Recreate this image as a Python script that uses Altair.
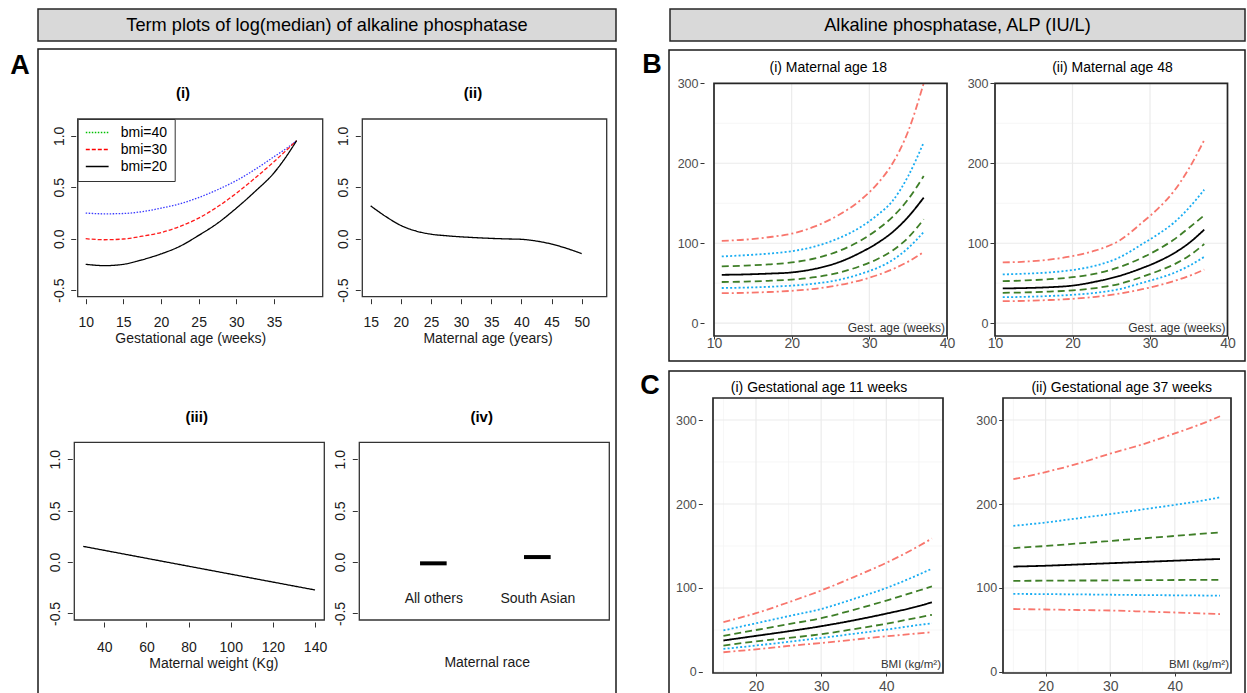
import altair as alt
import pandas as pd

W, H = 1247, 693
FONT = "Liberation Sans"

# ---------------- Panel A : term plots ----------------
a1_gest = [10, 12.5, 15, 17.5, 20, 22.5, 25, 27.5, 30, 32.5, 35, 36.5, 38.0]
a1_bmi20 = [-0.249, -0.262, -0.249, -0.205, -0.148, -0.074, 0.032, 0.150, 0.297, 0.460, 0.640, 0.785, 0.953]
a1_bmi30 = [0.0, -0.010, -0.003, 0.024, 0.060, 0.119, 0.200, 0.310, 0.442, 0.590, 0.749, 0.850, 0.953]
a1_bmi40 = [0.249, 0.242, 0.245, 0.263, 0.297, 0.339, 0.400, 0.476, 0.565, 0.674, 0.797, 0.870, 0.953]
a1_labels = ["bmi=40", "bmi=30", "bmi=20"]

a2_age = [15, 17.5, 20, 22.5, 25, 27.5, 30, 32.5, 35, 37.5, 40, 42.5, 45, 47.5, 50]
a2_eff = [0.319, 0.216, 0.129, 0.075, 0.044, 0.029, 0.018, 0.010, 0.003, -0.002, -0.006, -0.023, -0.052, -0.094, -0.145]

a3_weight = [30, 80, 140]
a3_eff = [0.152, -0.041, -0.272]

a4_levels = ["All others", "South Asian"]
a4_pos = [1, 2]
a4_eff = [-0.013, 0.048]

a_yticks = [-0.5, 0.0, 0.5, 1.0]

# ---------------- Panel B : ALP by gestational age ----------------
b_gest = [11, 14, 17, 20, 23, 26, 29, 31, 33, 35, 37]
b1 = {
    "red_hi":   [103, 104.5, 107.5, 112, 121, 135, 155, 174, 200, 240, 300],
    "blue_hi":  [83.5, 85, 87, 90, 96, 106, 121, 135, 153, 184, 226],
    "green_hi": [71, 72, 73.5, 76, 81, 90, 104, 117, 133, 155, 184],
    "median":   [60.5, 61, 62, 63.5, 68, 76, 89, 100, 114, 133, 157],
    "green_lo": [51.5, 52, 53, 54.5, 57.5, 63, 72, 80, 91, 107, 130],
    "blue_lo":  [44, 44.5, 45.5, 47, 49.5, 54, 62, 69, 79, 94, 114],
    "red_lo":   [37.5, 38, 39, 40.5, 43, 47.5, 54, 60, 67.5, 77, 89],
}
b2 = {
    "red_hi":   [76, 77, 79.5, 84, 91, 103, 126, 143, 164, 193, 229],
    "blue_hi":  [61, 62, 63.5, 66.5, 72, 82, 99, 111, 125, 144, 167],
    "green_hi": [52.5, 53.5, 55, 57.5, 62, 70, 82, 92, 104, 119, 135],
    "median":   [43.5, 44, 45, 47, 52, 59, 69, 77, 87, 100, 117],
    "green_lo": [38, 38.5, 39.5, 41, 44, 49, 58, 65, 73, 84, 99],
    "blue_lo":  [32.5, 33, 34, 35.5, 38, 42.5, 50.5, 56, 62.5, 71.5, 83],
    "red_lo":   [27.5, 28, 29, 30.5, 33, 37, 42.5, 47, 52.5, 59, 67],
}

# ---------------- Panel C : ALP by BMI ----------------
c_bmi = [15, 20, 25, 30, 35, 40, 45, 47]
c1 = {
    "red_hi":   [59.5, 70, 83, 97, 113, 130, 150, 159],
    "blue_hi":  [49.5, 58, 66.5, 75, 87, 100, 116, 123],
    "green_hi": [43, 50, 57, 64, 74, 85, 97, 102],
    "median":   [37.5, 43, 48.5, 54.5, 61.5, 69.5, 78.5, 83],
    "green_lo": [31.5, 36.5, 40.5, 45, 51, 57.5, 65, 68],
    "blue_lo":  [27.5, 31.5, 36, 40.5, 45.5, 50.5, 56, 58],
    "red_lo":   [23.5, 27, 31, 34.5, 38.5, 42.5, 46, 47.5],
}
c2 = {
    "red_hi":   [229.5, 238, 248, 260, 271, 284, 298, 304.5],
    "blue_hi":  [174, 178, 183, 188, 193.5, 199, 205, 208],
    "green_hi": [147.5, 150, 153, 156, 159, 162, 165, 166],
    "median":   [125.5, 126.5, 128, 129.5, 131, 132.5, 134, 134.5],
    "green_lo": [108.5, 108.7, 108.9, 109, 109.3, 109.5, 109.7, 109.8],
    "blue_lo":  [93, 92.7, 92.4, 92, 91.6, 91.3, 91, 90.8],
    "red_lo":   [75, 74.4, 73.8, 73.2, 72, 70.8, 69.5, 69],
}

BANDS = ["red_hi", "blue_hi", "green_hi", "median", "green_lo", "blue_lo", "red_lo"]
RED, BLUE, GREEN = "#F8766D", "#1AADF2", "#3E7E27"
BAND_COLORS = [RED, BLUE, GREEN, "#000000", GREEN, BLUE, RED]
DD, DOT, DASH, SOLID = [7, 3, 2, 3], [2, 2.2], [7, 4], [1, 0]
BAND_DASH = [DD, DOT, DASH, SOLID, DASH, DOT, DD]

# ---------------- layout (pixel geometry of each panel frame) ----------------
A_Y = [-0.564, 1.164]
G = {
    "A1": dict(xdom=[8.94, 41.47], xr=[77.7, 322.7], ydom=A_Y, yr=[296.7, 119]),
    "A2": dict(xdom=[13.61, 54.15], xr=[362.3, 606.7], ydom=A_Y, yr=[296.7, 119]),
    "A3": dict(xdom=[25.76, 144.4], xr=[74.3, 324.3], ydom=A_Y, yr=[620, 442.3]),
    "A4": dict(xdom=[0.288, 2.692], xr=[359.3, 609.3], ydom=A_Y, yr=[620, 442.3]),
    "B1": dict(xdom=[10, 40], xr=[714, 947], ydom=[-16, 300], yr=[336, 83.3]),
    "B2": dict(xdom=[10, 40], xr=[995, 1227.5], ydom=[-16, 300], yr=[336, 83.3]),
    "C1": dict(xdom=[13.4, 48.7], xr=[713, 943], ydom=[-1.2, 326.2], yr=[673, 398]),
    "C2": dict(xdom=[13.4, 48.7], xr=[1003, 1231], ydom=[-1.2, 326.2], yr=[673, 398]),
}

ONE = pd.DataFrame({"k": [0]})


def sc(dom, rng):
    return alt.Scale(domain=dom, range=rng, nice=False, zero=False)


class Panel:
    """Shared scales and axes for every layer of one panel."""

    def __init__(self, g, xaxis, yaxis):
        self.g = g
        self.xs = sc(g["xdom"], g["xr"])
        self.ys = sc(g["ydom"], g["yr"])
        self.xa = xaxis
        self.ya = yaxis

    def X(self, field):
        return alt.X(field, scale=self.xs, axis=self.xa)

    def Y(self, field):
        return alt.Y(field, scale=self.ys, axis=self.ya)

    def XD(self, v):
        return alt.XDatum(v, type="quantitative", scale=self.xs, axis=self.xa)

    def YD(self, v):
        return alt.YDatum(v, type="quantitative", scale=self.ys, axis=self.ya)

    def frame(self, stroke, sw):
        g = self.g
        return alt.Chart(ONE).mark_rect(filled=False, stroke=stroke, strokeWidth=sw).encode(
            x=self.XD(g["xdom"][0]), x2=alt.X2Datum(g["xdom"][1]),
            y=self.YD(g["ydom"][0]), y2=alt.Y2Datum(g["ydom"][1]),
        )

    def hgrid(self, vals, color, sw):
        g = self.g
        return alt.Chart(pd.DataFrame({"v": vals})).mark_rule(color=color, strokeWidth=sw).encode(
            y=self.Y("v:Q"), x=self.XD(g["xdom"][0]), x2=alt.X2Datum(g["xdom"][1]),
        )

    def vgrid(self, vals, color, sw):
        g = self.g
        return alt.Chart(pd.DataFrame({"v": vals})).mark_rule(color=color, strokeWidth=sw).encode(
            x=self.X("v:Q"), y=self.YD(g["ydom"][0]), y2=alt.Y2Datum(g["ydom"][1]),
        )

    def line(self, xv, yv, color, dash, sw=1.3):
        df = pd.DataFrame({"x": xv, "y": yv})
        return alt.Chart(df).mark_line(color=color, strokeDash=dash, strokeWidth=sw, interpolate="monotone").encode(
            x=self.X("x:Q"), y=self.Y("y:Q"),
        )


def r_xaxis(g, values, title, title_x, title_cy, label_cy):
    axis_y = g["yr"][0] + 2
    return alt.Axis(
        orient="bottom", offset=axis_y - H, values=values, format="d", domain=False, grid=False, zindex=2,
        tickSize=5, tickColor="#333333", tickWidth=1,
        labelFont=FONT, labelFontSize=14, labelColor="#1a1a1a", labelBaseline="top",
        labelPadding=label_cy - 6 - axis_y - 5, labelFlush=False, labelOverlap=False,
        title=title, titleFont=FONT, titleFontSize=14, titleFontWeight="normal", titleColor="#1a1a1a",
        titleX=title_x, titleY=title_cy - axis_y, titleBaseline="middle", titleAlign="center",
    )


def r_yaxis(g):
    axis_x = g["xr"][0] - 2
    return alt.Axis(
        orient="left", offset=-axis_x, values=a_yticks, format=".1f", domain=False, grid=False, zindex=2,
        tickSize=5, tickColor="#333333", tickWidth=1,
        labelExpr="replace(datum.label, '\u2212', '-')",
        labelAngle=270, labelAlign="center", labelBaseline="bottom", labelPadding=4.5,
        labelFont=FONT, labelFontSize=14, labelColor="#1a1a1a", labelOverlap=False, title=None,
    )


def txt(s, x, y, size, weight="normal", color="black", align="center", baseline="middle"):
    return alt.Chart(ONE).mark_text(
        text=s, font=FONT, fontSize=size, fontWeight=weight, color=color, align=align, baseline=baseline
    ).encode(x=alt.value(x), y=alt.value(y))


def box(x1, y1, x2, y2, stroke, sw, fill=None):
    if fill is None:
        m = alt.Chart(ONE).mark_rect(filled=False, stroke=stroke, strokeWidth=sw)
    else:
        m = alt.Chart(ONE).mark_rect(fill=fill, stroke=stroke, strokeWidth=sw)
    return m.encode(x=alt.value(x1), x2=alt.value(x2), y=alt.value(y1), y2=alt.value(y2))


# ---------- A(i) ----------
g = G["A1"]
P = Panel(g, r_xaxis(g, [10, 15, 20, 25, 30, 35], "Gestational age (weeks)", 190.3, 338.3, 321.7), r_yaxis(g))
leg = alt.Legend(
    orient="none", legendX=g["xr"][0], legendY=g["yr"][1], title=None,
    strokeColor="#333333", fillColor="white", padding=7, symbolType="stroke", symbolSize=520,
    symbolStrokeWidth=1.3, labelFont=FONT, labelFontSize=14, labelColor="black",
    labelOffset=11, rowPadding=2, clipHeight=13, zindex=3,
)
leg_df = pd.DataFrame({"lab": a1_labels, "x": [a1_gest[0]] * 3, "y": [a1_bmi20[0]] * 3})
leg_layer = alt.Chart(leg_df).mark_line(strokeWidth=1.3).encode(
    x=P.X("x:Q"), y=P.Y("y:Q"),
    color=alt.Color("lab:N", scale=alt.Scale(domain=a1_labels, range=["#00C000", "#FF0000", "#000000"]), legend=leg),
    strokeDash=alt.StrokeDash("lab:N", scale=alt.Scale(domain=a1_labels, range=[[1.5, 1.5], [4, 2], [1, 0]]), legend=leg),
)
pA1 = alt.layer(
    P.line(a1_gest, a1_bmi40, "#3a3aff", [1.5, 1.5]),
    P.line(a1_gest, a1_bmi30, "#ff1a1a", [4, 2]),
    P.line(a1_gest, a1_bmi20, "#000000", [1, 0]),
    leg_layer,
    P.frame("#333333", 1.3),
)

# ---------- A(ii) ----------
g = G["A2"]
P = Panel(g, r_xaxis(g, [15, 20, 25, 30, 35, 40, 45, 50], "Maternal age (years)", 487.5, 338.3, 321.7), r_yaxis(g))
pA2 = alt.layer(P.line(a2_age, a2_eff, "#000000", [1, 0]), P.frame("#333333", 1.3))

# ---------- A(iii) ----------
g = G["A3"]
P = Panel(g, r_xaxis(g, [40, 60, 80, 100, 120, 140], "Maternal weight (Kg)", 213.3, 663.3, 646), r_yaxis(g))
pA3 = alt.layer(P.line(a3_weight, a3_eff, "#000000", [1, 0]), P.frame("#333333", 1.3))

# ---------- A(iv) ----------
g = G["A4"]
lab_expr = "[" + ",".join("'" + s + "'" for s in a4_levels) + "][datum.value - 1]"
a4_axis_y = 585
a4_xaxis = alt.Axis(
    orient="bottom", offset=a4_axis_y - H, values=a4_pos, domain=False, grid=False, ticks=False, tickSize=0,
    zindex=2,
    labelExpr=lab_expr, labelFont=FONT, labelFontSize=14, labelColor="#1a1a1a", labelBaseline="top",
    labelPadding=6, labelFlush=False, labelOverlap=False,
    title="Maternal race", titleFont=FONT, titleFontSize=14, titleFontWeight="normal", titleColor="#1a1a1a",
    titleX=486.7, titleY=662.7 - a4_axis_y, titleBaseline="middle", titleAlign="center",
)
P = Panel(g, a4_xaxis, r_yaxis(g))
a4_df = pd.DataFrame({"pos": a4_pos, "eff": a4_eff,
                      "lo": [p - 0.128 for p in a4_pos], "hi": [p + 0.128 for p in a4_pos]})
pA4 = alt.layer(
    alt.Chart(a4_df).mark_rule(color="black", strokeWidth=4).encode(
        x=P.X("lo:Q"), x2="hi:Q", y=P.Y("eff:Q"),
    ),
    P.frame("#333333", 1.3),
)


# ---------- B / C panels ----------
def long_df(xv, series):
    rows = []
    for b in BANDS:
        for xi, vi in zip(xv, series[b]):
            rows.append({"x": xi, "v": vi, "band": b})
    return pd.DataFrame(rows)


def gg_panel(g, xv, series, xticks, axis_x, label_pad_x, xlab_cy, corner, corner_size, corner_dy,
             xminor, yminor):
    xaxis = alt.Axis(
        orient="bottom", offset=g["yr"][0] - H, values=xticks, format="d", domain=False, grid=False, zindex=2,
        tickSize=3, tickColor="#333333", labelFont=FONT, labelFontSize=14, labelColor="#4d4d4d",
        labelBaseline="top", labelPadding=xlab_cy - 6 - g["yr"][0] - 3, labelFlush=False, labelOverlap=False,
        title=None,
    )
    yaxis = alt.Axis(
        orient="left", offset=-axis_x, values=[0, 100, 200, 300], format="d", domain=False, grid=False, zindex=2,
        tickSize=4, tickColor="#333333", labelFont=FONT, labelFontSize=12.5, labelColor="#4d4d4d",
        labelPadding=label_pad_x, labelOverlap=False, title=None,
    )
    P = Panel(g, xaxis, yaxis)
    lines = alt.Chart(long_df(xv, series)).mark_line(strokeWidth=1.8, interpolate="monotone").encode(
        x=P.X("x:Q"), y=P.Y("v:Q"),
        color=alt.Color("band:N", scale=alt.Scale(domain=BANDS, range=BAND_COLORS), legend=None),
        strokeDash=alt.StrokeDash("band:N", scale=alt.Scale(domain=BANDS, range=BAND_DASH), legend=None),
    )
    corner_txt = alt.Chart(ONE).mark_text(
        text=corner, font=FONT, fontSize=corner_size, color="#333333", align="right", baseline="bottom",
        dx=-2, dy=corner_dy,
    ).encode(x=P.XD(g["xdom"][1]), y=P.YD(g["ydom"][0]))
    layers = [P.hgrid(yminor, "#F2F2F2", 0.7)]
    if xminor:
        layers.append(P.vgrid(xminor, "#F2F2F2", 0.7))
    layers += [
        P.hgrid([0, 100, 200, 300], "#EBEBEB", 1.2),
        P.vgrid(list(xticks), "#EBEBEB", 1.2),
        lines,
        corner_txt,
        P.frame("#262626", 1.7),
    ]
    return alt.layer(*layers)


pB1 = gg_panel(G["B1"], b_gest, b1, [10, 20, 30, 40], 704, 2, 342, "Gest. age (weeks)", 12, -1, [], [50, 150, 250])
pB2 = gg_panel(G["B2"], b_gest, b2, [10, 20, 30, 40], 994, 2, 342, "Gest. age (weeks)", 12, -1, [], [50, 150, 250])
pC1 = gg_panel(G["C1"], c_bmi, c1, [20, 30, 40], 702.3, 2, 685, "BMI (kg/m\u00b2)", 11.5, -3, [15, 25, 35, 45], [50, 150, 250])
pC2 = gg_panel(G["C2"], c_bmi, c2, [20, 30, 40], 1002.7, 2, 685, "BMI (kg/m\u00b2)", 11.5, -3, [15, 25, 35, 45], [50, 150, 250])

# ---------- decorations ----------
deco = [
    box(38, 9, 616, 41, "#262626", 1.5, fill="#D9D9D9"),
    box(670, 9, 1245, 41, "#262626", 1.5, fill="#D9D9D9"),
    box(38, 49, 616, 700, "#1a1a1a", 1.5),
    box(669, 50, 1245, 361, "#1a1a1a", 1.5),
    box(669, 371, 1245, 700, "#1a1a1a", 1.5),
]
labels = [
    txt("Term plots of log(median) of alkaline phosphatase", 327, 25.5, 18.2),
    txt("Alkaline phosphatase, ALP (IU/L)", 957.5, 25.5, 18.2),
    txt("A", 20, 66, 27, "bold"),
    txt("B", 652, 65, 27, "bold"),
    txt("C", 650, 386, 27, "bold"),
    txt("(i)", 183, 93, 15, "bold"),
    txt("(ii)", 473, 93, 15, "bold"),
    txt("(iii)", 196.7, 416.7, 15, "bold"),
    txt("(iv)", 481.7, 416.7, 15, "bold"),
    txt("(i) Maternal age 18", 828.3, 67.5, 14),
    txt("(ii) Maternal age 48", 1112.5, 67.5, 14),
    txt("(i) Gestational age 11 weeks", 819, 387.5, 14),
    txt("(ii) Gestational age 37 weeks", 1121.7, 387.5, 14),
]

chart = alt.layer(
    *deco, pA1, pA2, pA3, pA4, pB1, pB2, pC1, pC2, *labels
).resolve_scale(
    x="independent", y="independent", color="independent", strokeDash="independent"
).properties(
    width=W, height=H, padding=0, autosize=alt.AutoSizeParams(type="none"), background="white"
).configure_view(strokeWidth=0)

chart.save("out.html", embed_options={"renderer": "svg", "actions": False})
